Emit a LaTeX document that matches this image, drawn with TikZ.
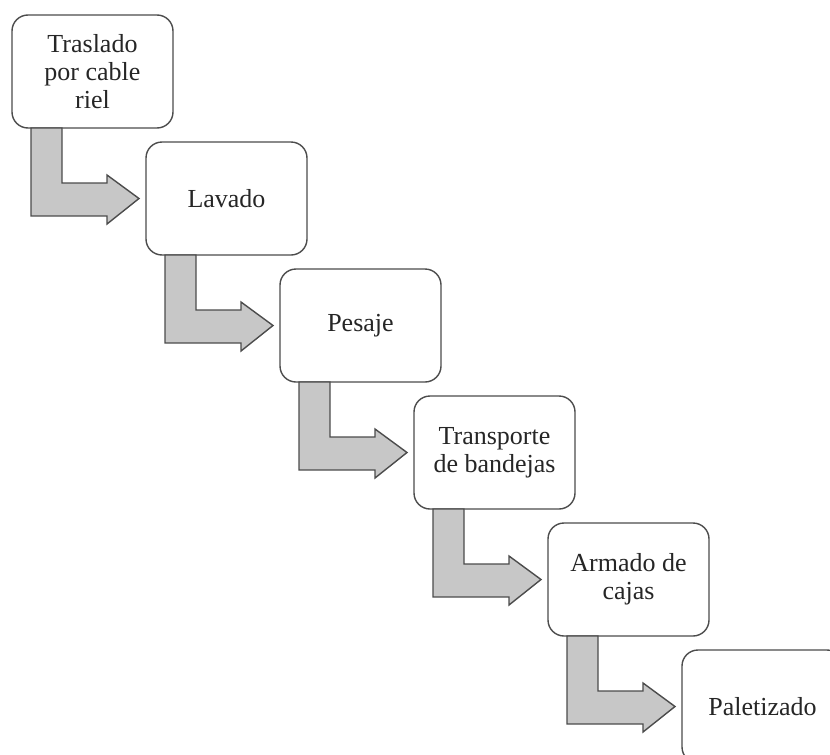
\documentclass[tikz,border=0pt]{standalone}
\usepackage{fontspec}
\setmainfont{Liberation Serif}
\usetikzlibrary{positioning}

\begin{document}
\begin{tikzpicture}[x=1pt, y=1pt, line width=1.4pt, node distance=14pt and -27pt,
    every node/.style={align=center, rounded corners=16pt, draw=black!70, fill=white, minimum width=161pt, minimum height=113pt, inner sep=0pt, outer sep=0pt, font=\fontsize{26}{28}\selectfont, text=black!85},
    arrowbox/.style={fill=black!22, draw=black!70, line width=1.4pt, line join=miter}]
    \clip (0,0) rectangle (830,-755);
    \node (tras) [anchor=north west] at (12,-15) {Traslado\\por cable\\riel};
    \node (lav) [below right=of tras] {Lavado};
    \node (pes) [below right=of lav] {Pesaje};
    \node (trans) [below right=of pes] {Transporte\\de bandejas};
    \node (arm) [below right=of trans] {Armado de\\cajas};
    \node (pal) [below right=of arm] {Paletizado};

    % bent arrows between the steps
    \foreach \a/\b in {tras/lav, lav/pes, pes/trans, trans/arm, arm/pal}
        \draw[arrowbox, shift={(\a.south west)}] (19,0) -- (19,-88) -- (95,-88) -- (95,-96)
            -- ([xshift=-7pt]\b.west) -- (95,-47) -- (95,-55) -- (50,-55) -- (50,0) -- cycle;
\end{tikzpicture}
\end{document}
